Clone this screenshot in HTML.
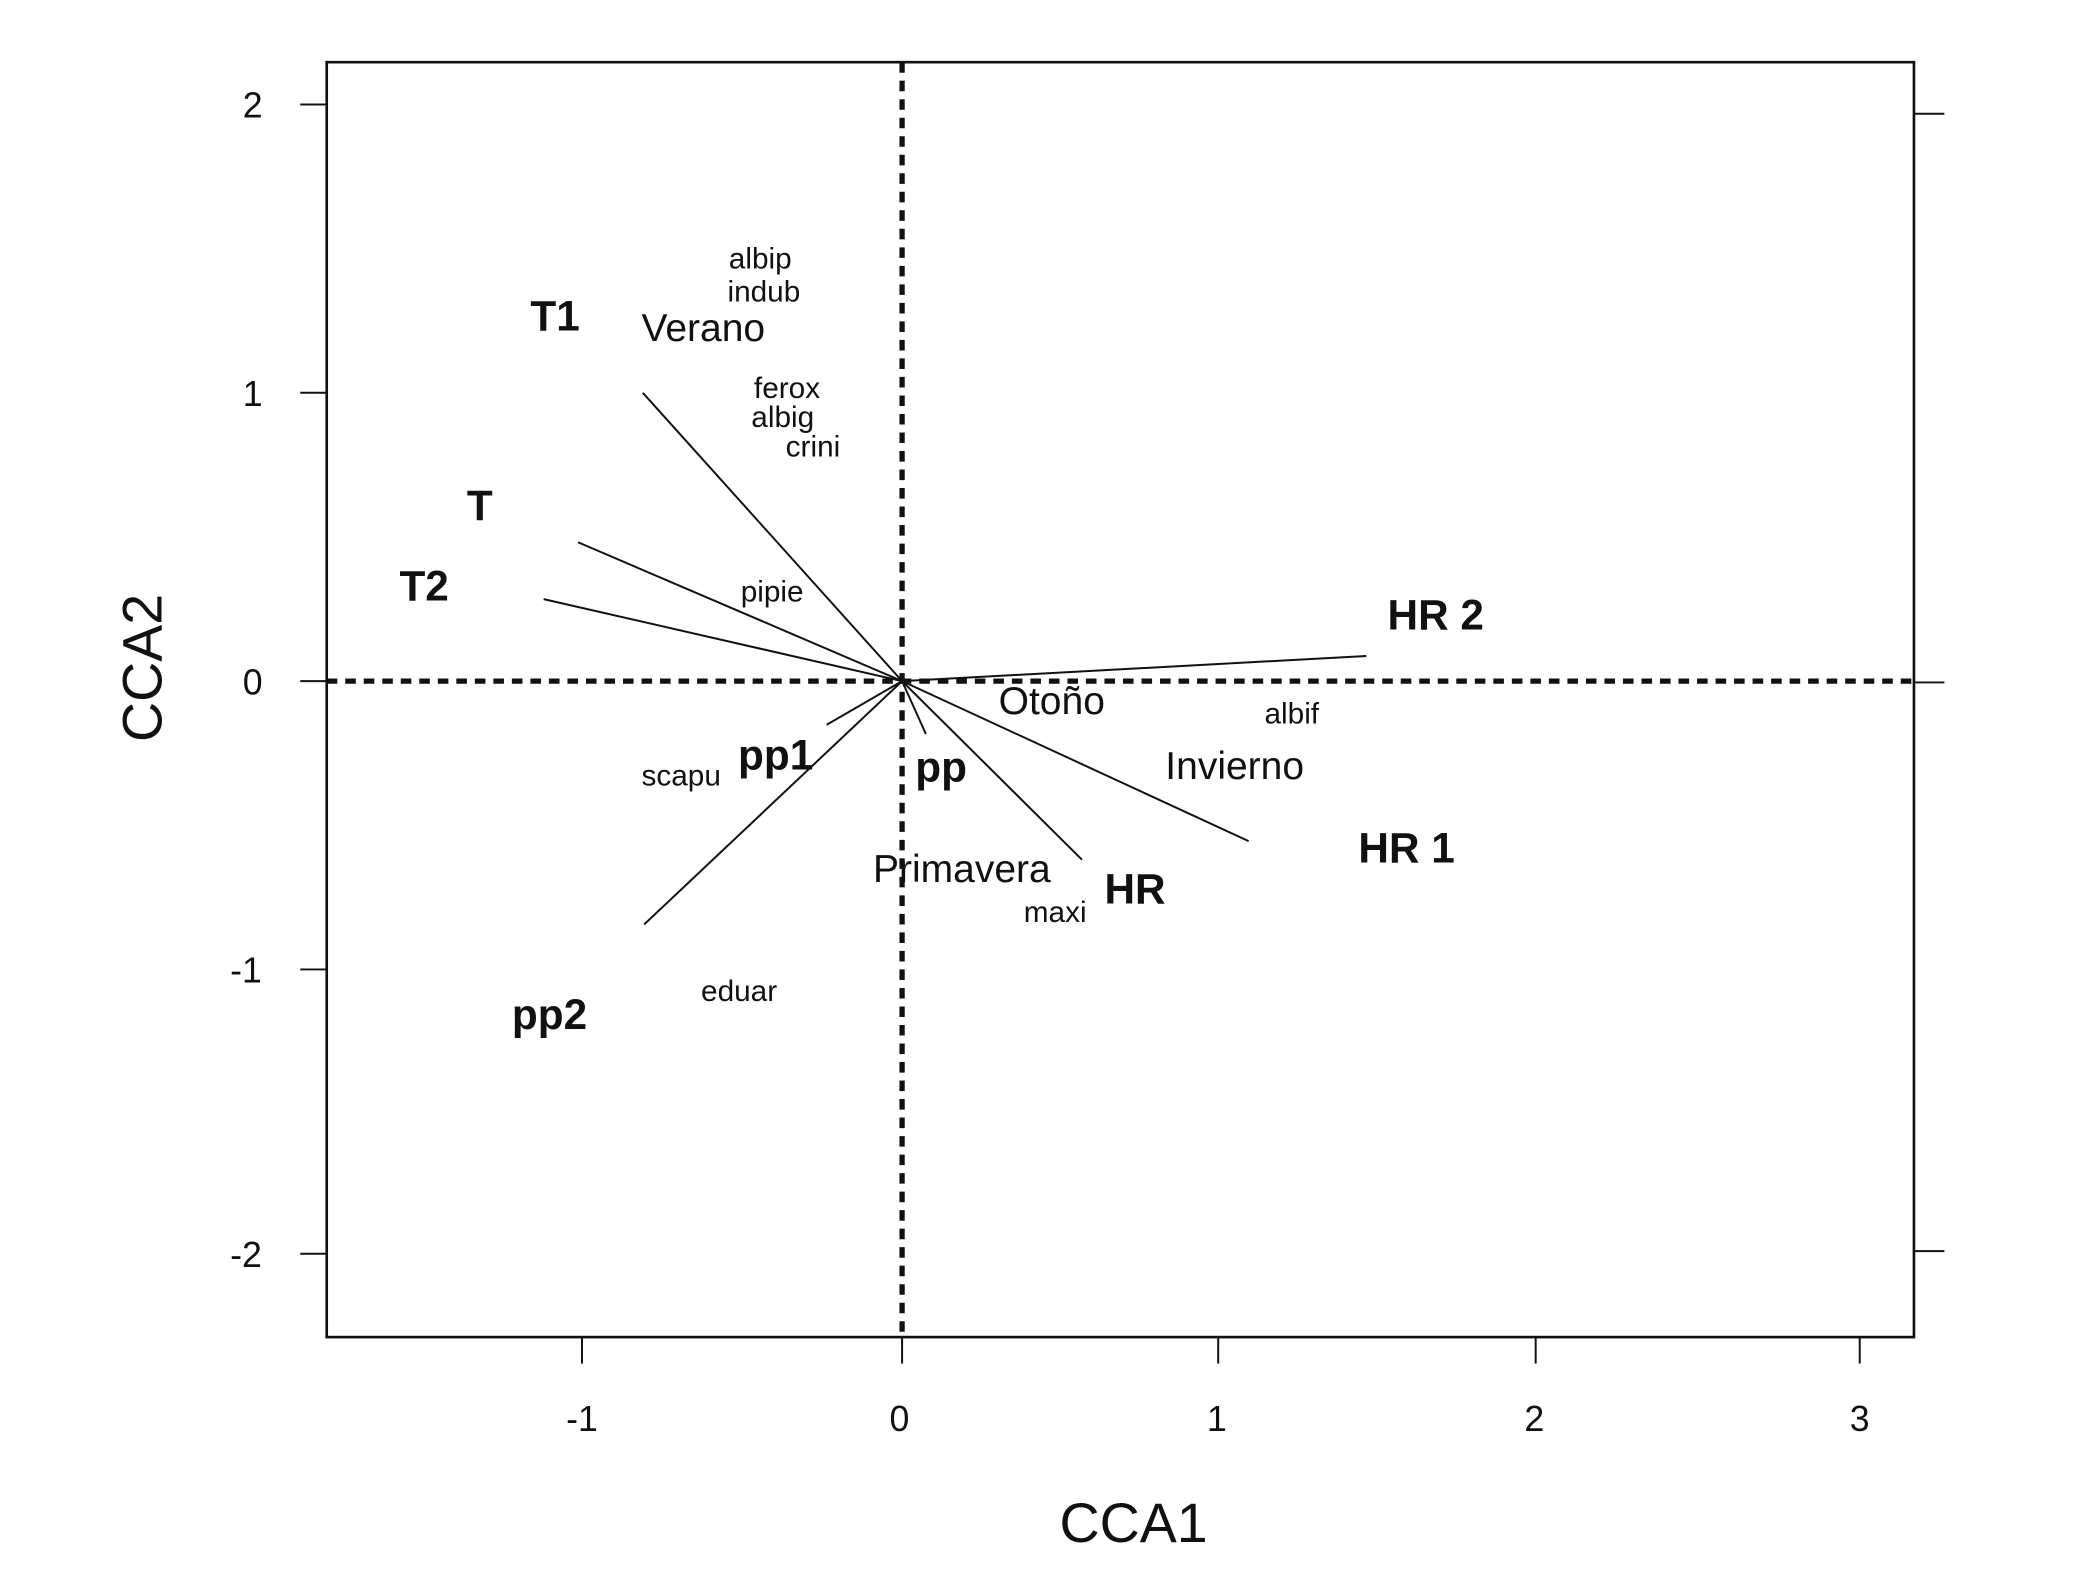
<!DOCTYPE html>
<html><head><meta charset="utf-8"><style>html,body{margin:0;padding:0;background:#fff}svg{display:block}</style></head>
<body>
<svg width="2074" height="1595" viewBox="0 0 1568 1206" preserveAspectRatio="none" xmlns="http://www.w3.org/2000/svg" font-family="Liberation Sans, Arial, sans-serif" fill="#111">
<rect x="247" y="47" width="1200" height="964" fill="none" stroke="#111" stroke-width="2"/>
<g stroke="#111" stroke-width="1.5">
<line x1="227" y1="79" x2="247" y2="79"/><line x1="227" y1="297" x2="247" y2="297"/><line x1="227" y1="515" x2="247" y2="515"/><line x1="227" y1="733" x2="247" y2="733"/><line x1="227" y1="948" x2="247" y2="948"/>
<line x1="1447" y1="86" x2="1470" y2="86"/><line x1="1447" y1="516" x2="1470" y2="516"/><line x1="1447" y1="946" x2="1470" y2="946"/>
<line x1="440" y1="1011" x2="440" y2="1031"/><line x1="682" y1="1011" x2="682" y2="1031"/><line x1="921" y1="1011" x2="921" y2="1031"/><line x1="1161" y1="1011" x2="1161" y2="1031"/><line x1="1406" y1="1011" x2="1406" y2="1031"/>
</g>
<g stroke="#111" stroke-width="4" stroke-dasharray="8,6">
<line x1="682" y1="47" x2="682" y2="1011"/><line x1="247" y1="515" x2="1447" y2="515"/>
</g>
<g stroke="#111" stroke-width="1.5">
<line x1="682" y1="515" x2="486" y2="297"/><line x1="682" y1="515" x2="437" y2="410"/><line x1="682" y1="515" x2="411" y2="453"/>
<line x1="682" y1="515" x2="1033" y2="496"/><line x1="682" y1="515" x2="944" y2="636"/><line x1="682" y1="515" x2="818" y2="650"/>
<line x1="682" y1="515" x2="700" y2="555"/><line x1="682" y1="515" x2="625" y2="548"/><line x1="682" y1="515" x2="487" y2="699"/>
</g>
<g font-size="27" text-anchor="middle">
<text x="191" y="89">2</text><text x="191" y="307">1</text><text x="191" y="525">0</text><text x="186" y="743">-1</text><text x="186" y="958">-2</text>
<text x="440" y="1082">-1</text><text x="680" y="1082">0</text><text x="920" y="1082">1</text><text x="1160" y="1082">2</text><text x="1406" y="1082">3</text>
</g>
<text x="857" y="1166" font-size="42" text-anchor="middle">CCA1</text>
<text transform="translate(122,505) rotate(-90)" font-size="42" text-anchor="middle">CCA2</text>
<g font-size="22.5">
<text x="551" y="203">albip</text><text x="550" y="228">indub</text><text x="570" y="301">ferox</text><text x="568" y="323">albig</text><text x="594" y="345">crini</text>
<text x="560" y="455">pipie</text><text x="485" y="594">scapu</text><text x="530" y="757">eduar</text><text x="774" y="697">maxi</text><text x="956" y="547">albif</text>
</g>
<g font-size="29.5">
<text x="485" y="258">Verano</text><text x="755" y="540">Otoño</text><text x="881" y="589">Invierno</text><text x="660" y="667">Primavera</text>
</g>
<g font-size="32" font-weight="bold">
<text x="401" y="250">T1</text><text x="353" y="393">T</text><text x="302" y="454">T2</text><text x="1049" y="476">HR 2</text>
<text x="1027" y="652">HR 1</text><text x="835" y="683">HR</text><text x="558" y="582">pp1</text><text x="692" y="591">pp</text><text x="387" y="778">pp2</text>
</g>
</svg>
</body></html>
